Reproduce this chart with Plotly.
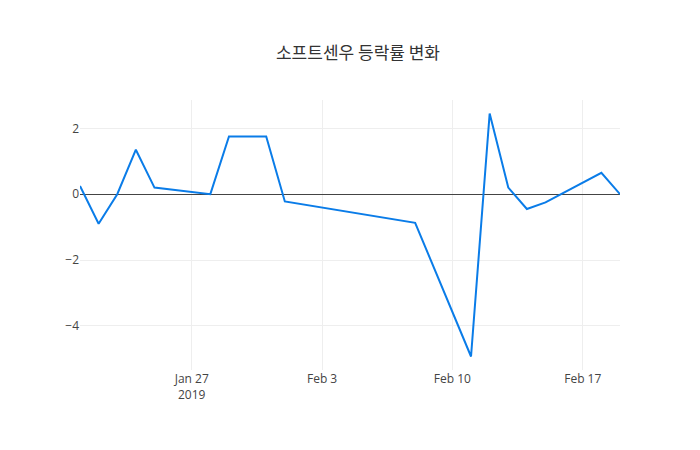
import plotly.graph_objects as go

dates = ["2019-01-21","2019-01-22","2019-01-23","2019-01-24","2019-01-25","2019-01-28",
         "2019-01-29","2019-01-30","2019-01-31","2019-02-01","2019-02-08","2019-02-11",
         "2019-02-12","2019-02-13","2019-02-14","2019-02-15","2019-02-18","2019-02-19"]
changes = [0.25,-0.9,0.0,1.35,0.2,0.0,1.75,1.75,1.75,-0.22,-0.87,-4.93,2.45,0.2,-0.45,-0.25,0.65,0.0]

fig = go.Figure(go.Scatter(x=dates, y=changes, mode="lines",
                           line=dict(color="#0a7ce8", width=2)))
fig.update_layout(
    width=700, height=450, template="plotly_white",
    title=dict(text="소프트센우 등락률 변화", x=0.5, xanchor="center",
               yref="container", y=0.9, yanchor="middle",
               font=dict(family="Noto Sans CJK KR", size=17, color="#333")),
    font=dict(family="Open Sans", size=12, color="#444"),
    margin=dict(l=72, r=88, t=92, b=88),
    xaxis=dict(showgrid=True, gridcolor="#eee", zeroline=False),
    yaxis=dict(showgrid=True, gridcolor="#eee", zeroline=True, zerolinecolor="#444",
               zerolinewidth=1, tickvals=[-4,-2,0,2]),
)
fig.write_html("out.html")
